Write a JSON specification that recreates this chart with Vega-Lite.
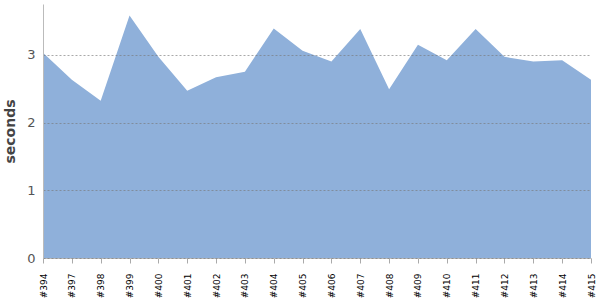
{
  "$schema": "https://vega.github.io/schema/vega-lite/v6.json",
  "autosize": "none",
  "width": 548,
  "height": 254,
  "padding": {"left": 43, "top": 4, "right": 9, "bottom": 42},
  "background": "white",
  "config": {"view": {"stroke": null}},
  "data": {"values": [
    {"build": "#394", "seconds": 3.03},
    {"build": "#397", "seconds": 2.63},
    {"build": "#398", "seconds": 2.32},
    {"build": "#399", "seconds": 3.58},
    {"build": "#400", "seconds": 2.97},
    {"build": "#401", "seconds": 2.47},
    {"build": "#402", "seconds": 2.67},
    {"build": "#403", "seconds": 2.75},
    {"build": "#404", "seconds": 3.39},
    {"build": "#405", "seconds": 3.06},
    {"build": "#406", "seconds": 2.9},
    {"build": "#407", "seconds": 3.38},
    {"build": "#408", "seconds": 2.49},
    {"build": "#409", "seconds": 3.15},
    {"build": "#410", "seconds": 2.92},
    {"build": "#411", "seconds": 3.38},
    {"build": "#412", "seconds": 2.97},
    {"build": "#413", "seconds": 2.9},
    {"build": "#414", "seconds": 2.92},
    {"build": "#415", "seconds": 2.63}
  ]},
  "mark": {"type": "area", "color": "#8fb0da", "opacity": 1},
  "encoding": {
    "x": {
      "field": "build", "type": "ordinal", "sort": null,
      "scale": {"type": "point", "padding": 0},
      "axis": {
        "title": null, "labelAngle": -90, "labelFontSize": 9, "labelColor": "#000",
        "labelFont": "DejaVu Sans", "labelPadding": 10, "tickColor": "#aaa", "tickSize": 5,
        "domainColor": "#bbb", "grid": false
      }
    },
    "y": {
      "field": "seconds", "type": "quantitative",
      "scale": {"domain": [0, 3.75], "nice": false},
      "axis": {
        "zindex": 1,
        "title": "seconds", "titleFontSize": 14, "titleFont": "DejaVu Sans", "titleFontWeight": "bold",
        "titleColor": "#444", "titlePadding": 9,
        "values": [0, 1, 2, 3], "labelFontSize": 13, "labelFont": "DejaVu Sans", "labelColor": "#555",
        "labelPadding": 8, "ticks": false, "domainColor": "#bbb",
        "grid": true, "gridColor": "#777", "gridDash": [2, 2], "gridWidth": 0.8, "gridOpacity": 0.8
      }
    }
  }
}
